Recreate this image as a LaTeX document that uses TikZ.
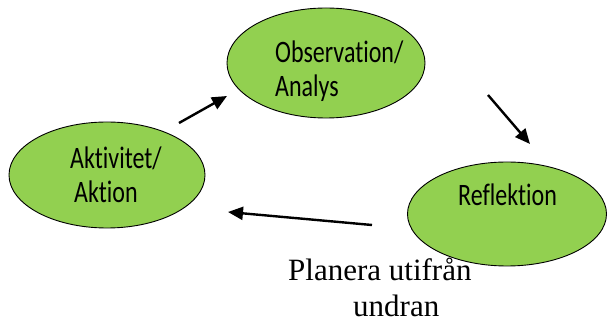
\documentclass[tikz,border=0pt]{standalone}
\usepackage{fontspec}
\setmainfont{Liberation Serif}
\newfontfamily\calibri[Ligatures=NoCommon]{Carlito}
\usepackage{graphicx}
\usepackage{xcolor}
\usetikzlibrary{shapes.geometric,arrows.meta}
\definecolor{lightgreen}{HTML}{92D050}
\newcommand{\tallbox}[1]{\scalebox{1}[1.3]{\begin{tabular}[t]{@{}l@{}}#1\end{tabular}}}
\tikzset{
  bubble/.style={ellipse, draw=black, line width=0.9pt, fill=lightgreen, inner sep=0pt},
  bubbletext/.style={anchor=base west, inner sep=0pt, font=\calibri\fontsize{24}{25.5}\selectfont},
  flow/.style={line width=2.4pt, -{Triangle[length=15pt,width=13pt]}}
}
\begin{document}
\begin{tikzpicture}[x=1pt,y=1pt]
    \useasboundingbox (0,0) rectangle (608,324);

    \node[bubble, minimum width=198pt, minimum height=110pt] (obs) at (326,261) {};
    \node[bubble, minimum width=196pt, minimum height=106pt] (akt) at (107,149) {};
    \node[bubble, minimum width=199pt, minimum height=104pt] (ref) at (507,110) {};

    \node[bubbletext] (obstext) at (275,261) {\tallbox{Observation/\\Analys}};
    \node[bubbletext] (akttext) at (70,155) {\tallbox{Aktivitet/\\\hspace{4pt}Aktion}};
    \node[bubbletext] (reftext) at (458,118) {\tallbox{Reflektion}};

    % base of the last line
    \node[anchor=base west, inner sep=0pt, align=left,
          font=\fontsize{31}{36}\selectfont] (plan) at (288,7)
          {Planera utifrån\\\hspace{65pt}undran};

    % free arrows between the bubbles
    \coordinate (a1) at (179,201);
    \coordinate (b1) at (227,228);
    \coordinate (a2) at (488,229);
    \coordinate (b2) at (530,180);
    \coordinate (a3) at (372,99);
    \coordinate (b3) at (228,112);
    \draw[flow] (a1) -- (b1);
    \draw[flow] (a2) -- (b2);
    \draw[flow] (a3) -- (b3);
\end{tikzpicture}
\end{document}
